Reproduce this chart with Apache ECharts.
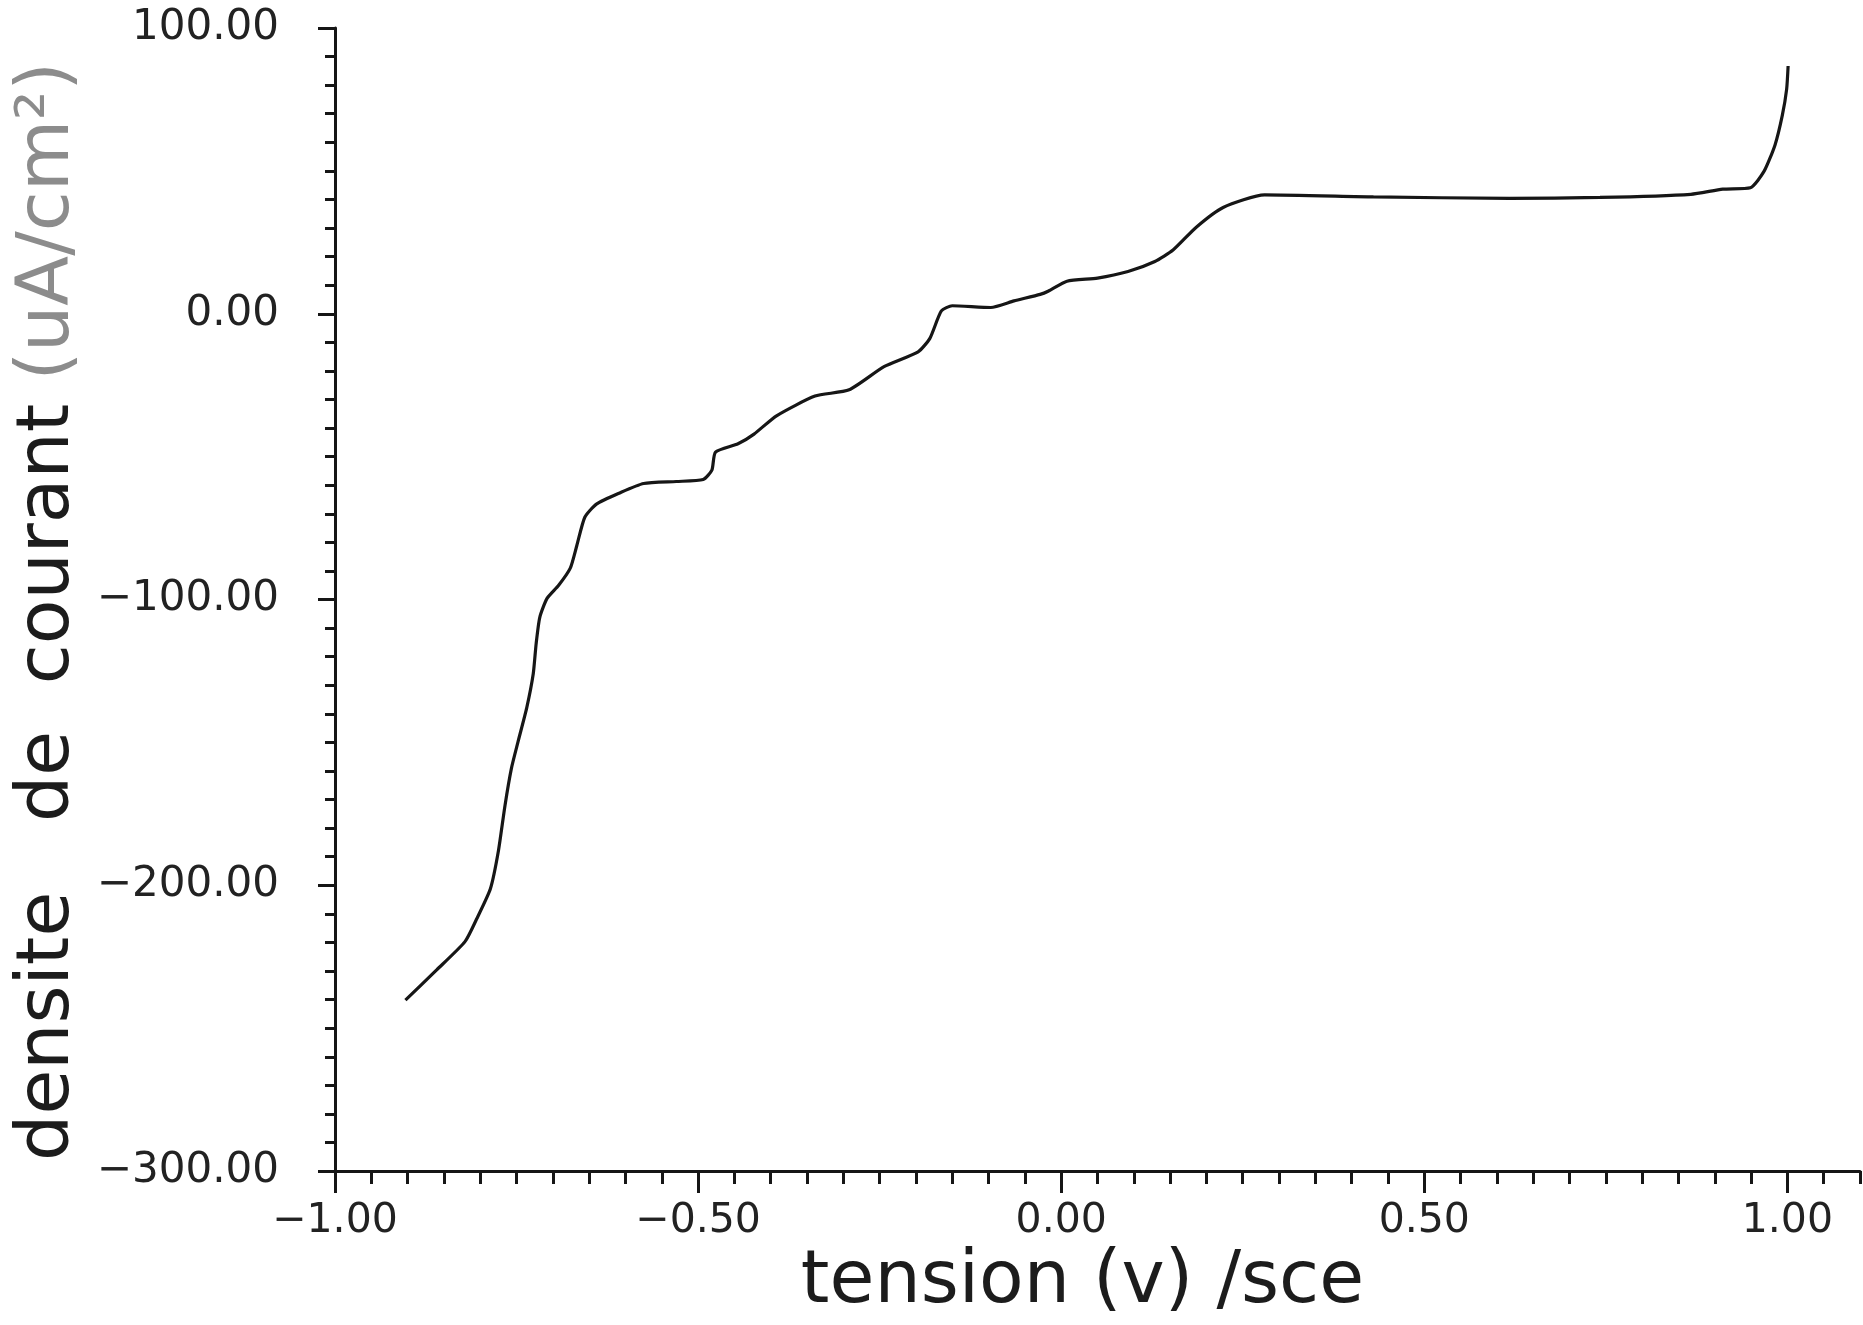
<!DOCTYPE html>
<html>
<head>
<meta charset="utf-8">
<script src="https://cdn.jsdelivr.net/npm/echarts@6/dist/echarts.min.js"></script>
<style>
html,body{margin:0;padding:0;background:#ffffff;}
#chart{width:1863px;height:1325px;}
</style>
</head>
<body>
<div id="chart"></div>
<script>
// tension (V / SCE)
const tension = [
  -0.903, -0.860, -0.821, -0.805, -0.786, -0.775, -0.766, -0.757, -0.748, -0.736,
  -0.727, -0.723, -0.718, -0.708, -0.692, -0.676, -0.667, -0.656, -0.640, -0.608,
  -0.575, -0.530, -0.493, -0.481, -0.476, -0.445, -0.423, -0.392, -0.339, -0.292,
  -0.244, -0.197, -0.181, -0.165, -0.150, -0.097, -0.065, -0.029, -0.018, 0.008,
  0.050, 0.092, 0.129, 0.154, 0.186, 0.223, 0.280, 0.430, 0.617, 0.742,
  0.867, 0.911, 0.949, 0.968, 0.983, 0.993, 0.999, 1.001
];
// densite de courant (uA/cm2)
const densite = [
  -240.2, -229.6, -219.7, -211.8, -201.2, -188.0, -172.2, -159.0, -149.8, -137.9,
  -126.0, -115.4, -106.2, -99.6, -95.0, -89.0, -81.1, -71.2, -66.6, -62.7,
  -59.4, -58.7, -58.0, -54.7, -48.4, -45.5, -42.1, -35.7, -28.8, -26.6,
  -18.5, -13.3, -8.7, 1.0, 2.8, 2.2, 4.5, 6.8, 7.9, 11.4,
  12.5, 14.8, 18.3, 22.3, 30.3, 37.2, 41.6, 40.9, 40.4, 40.7,
  41.8, 43.6, 44.1, 49.9, 59.1, 69.4, 78.6, 86.7
];
const xMajorTicks = [-1, -0.5, 0, 0.5, 1];
const yTickLabels = [-300, -200, -100, 0, 100];

const ink = '#161616';
const font = 'DejaVu Sans';

function fmt(v) {
  return (v < 0 ? '\u2212' : '') + Math.abs(v).toFixed(2);
}

const chart = echarts.init(document.getElementById('chart'), null, {renderer: 'canvas'});
chart.setOption({
  animation: false,
  backgroundColor: '#ffffff',
  grid: {left: 335, right: 2, top: 28, bottom: 136, containLabel: false},
  xAxis: [
    {
      type: 'value', position: 'bottom',
      min: -1, max: 1.1, interval: 0.05,
      axisLine: {show: true, onZero: false, lineStyle: {color: ink, width: 3}},
      axisTick: {show: true, length: 13, lineStyle: {color: ink, width: 3}},
      axisLabel: {
        show: true, margin: 30, fontSize: 41, fontFamily: font, color: '#222',
        formatter: function (v) {
          for (const t of xMajorTicks) { if (Math.abs(v - t) < 1e-6) return fmt(t); }
          return '';
        }
      },
      splitLine: {show: false},
      name: 'tension (v) /sce',
      nameLocation: 'middle',
      nameGap: 58,
      nameTextStyle: {fontSize: 73, fontFamily: font, color: '#1c1c1c', padding: [0, 30, 0, 0]}
    },
    {
      type: 'value', position: 'bottom',
      min: -1, max: 1.1, interval: 0.5,
      axisLine: {show: false, onZero: false},
      axisTick: {show: true, length: 22, customValues: xMajorTicks, lineStyle: {color: ink, width: 3}},
      axisLabel: {show: false},
      splitLine: {show: false}
    }
  ],
  yAxis: {
    type: 'value',
    min: -300, max: 100, interval: 100,
    axisLine: {show: true, onZero: false, lineStyle: {color: ink, width: 3}},
    axisTick: {show: true, length: 17, lineStyle: {color: ink, width: 3}},
    minorTick: {show: true, splitNumber: 10, length: 10, lineStyle: {color: ink, width: 3}},
    minorSplitLine: {show: false},
    splitLine: {show: false},
    axisLabel: {
      margin: 56, fontSize: 42, fontFamily: font, color: '#222',
      formatter: function (v) {
        for (const t of yTickLabels) { if (Math.abs(v - t) < 1e-6) return fmt(t); }
        return '';
      }
    },
    name: '{a|densite   de  courant} {b|(uA/cm\u00b2)}',
    nameLocation: 'middle',
    nameGap: 246,
    nameRotate: 90,
    nameTextStyle: {
      fontSize: 73, fontFamily: font, color: '#1c1c1c', padding: [0, 24, 0, 0],
      rich: {
        a: {fontSize: 73, fontFamily: font, color: '#1c1c1c'},
        b: {fontSize: 73, fontFamily: font, color: '#8c8c8c'}
      }
    }
  },
  series: [{
    type: 'line',
    xAxisIndex: 0, yAxisIndex: 0,
    data: tension.map((x, i) => [x, densite[i]]),
    showSymbol: false,
    smooth: 0.2,
    lineStyle: {color: ink, width: 3.2},
    silent: true
  }]
});
</script>
</body>
</html>
